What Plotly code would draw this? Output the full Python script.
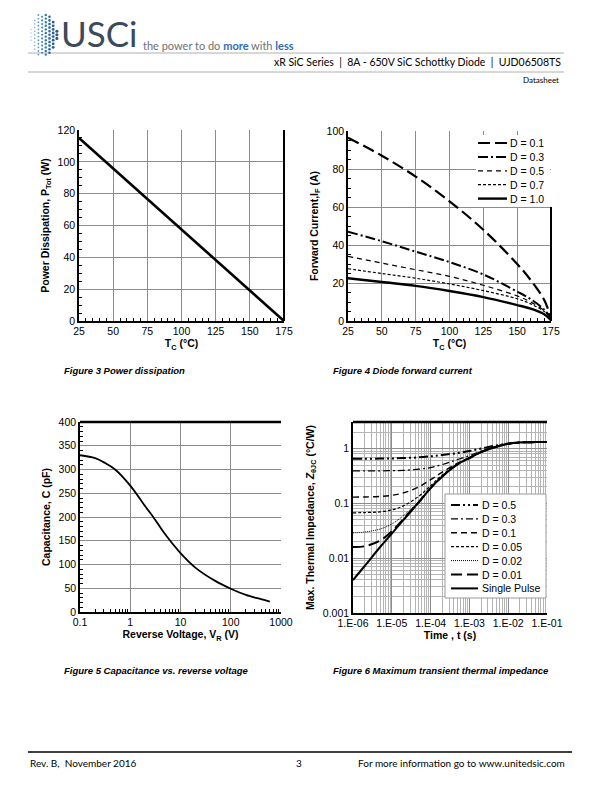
import plotly.graph_objects as go

W, H = 612, 792
OFF = 8  # page body margin of the generated html

# ---------------- data ----------------
# Figure 3: power dissipation
tc_p = [25, 175]
p_tot = [115, 0]

# Figure 4: forward current vs case temperature
tc_f = [25, 50, 75, 100, 125, 150, 160, 170, 175]
if_d01 = [96.5, 87, 76, 63, 48, 30, 21.5, 11, 1.5]
if_d03 = [47, 42, 36.5, 31, 24.5, 15.5, 11.5, 6, 1.5]
if_d05 = [34, 30.5, 27, 23.5, 18.8, 13.2, 10, 5.5, 1.5]
if_d07 = [27.5, 25, 22.5, 19.5, 16, 11.7, 9, 5, 1.5]
if_d10 = [22.5, 20.5, 18.5, 15.8, 12.6, 8.4, 6.5, 3.5, 0.5]

# Figure 5: capacitance vs reverse voltage
vr = [0.1, 0.2, 0.3, 0.5, 1, 2, 3, 5, 10, 20, 50, 100, 200, 400, 600]
cap = [330, 324, 315, 300, 266, 222, 197, 163, 124, 93, 65, 49, 36, 27, 22]

# Figure 6: transient thermal impedance
t_s = [1e-6, 2e-6, 5e-6, 1e-5, 2e-5, 5e-5, 1e-4, 2e-4, 5e-4, 1e-3, 2e-3, 5e-3, 1e-2, 2e-2, 5e-2, 1e-1]
z_d05 = [0.65, 0.65, 0.655, 0.66, 0.67, 0.69, 0.72, 0.76, 0.83, 0.9, 1.0, 1.14, 1.23, 1.29, 1.31, 1.31]
z_d03 = [0.39, 0.39, 0.392, 0.395, 0.4, 0.42, 0.45, 0.51, 0.63, 0.74, 0.9, 1.1, 1.22, 1.29, 1.31, 1.31]
z_d01 = [0.13, 0.131, 0.134, 0.14, 0.155, 0.2, 0.27, 0.37, 0.54, 0.68, 0.87, 1.09, 1.22, 1.29, 1.31, 1.31]
z_d005 = [0.067, 0.068, 0.07, 0.076, 0.09, 0.135, 0.21, 0.33, 0.52, 0.67, 0.86, 1.08, 1.22, 1.29, 1.31, 1.31]
z_d002 = [0.029, 0.03, 0.034, 0.042, 0.06, 0.11, 0.195, 0.315, 0.52, 0.67, 0.86, 1.08, 1.22, 1.29, 1.31, 1.31]
z_d001 = [0.016, 0.0165, 0.021, 0.031, 0.052, 0.106, 0.19, 0.31, 0.52, 0.67, 0.86, 1.08, 1.22, 1.29, 1.31, 1.31]
z_single = [0.004, 0.0072, 0.016, 0.028, 0.05, 0.105, 0.19, 0.31, 0.52, 0.67, 0.86, 1.08, 1.22, 1.29, 1.31, 1.31]

x4_vals = [1e-6, 1e-5, 1e-4, 1e-3, 1e-2, 1e-1]
x4_text = ["1.E-06", "1.E-05", "1.E-04", "1.E-03", "1.E-02", "1.E-01"]
y4_vals = [0.001, 0.01, 0.1, 1]
y4_text = ["0.001", "0.01", "0.1", "1"]
x3_vals = [0.1, 1, 10, 100, 1000]
x3_text = ["0.1", "1", "10", "100", "1000"]

# ---------------- helpers ----------------
def fx(p):
    return (p - OFF) / W

def fy(p):
    return 1 - (p - OFF) / H

FONT = "Liberation Sans"
HFONT = "Lato"
GRID = "#8c8c8c"

fig = go.Figure()

# Figure 3
fig.add_trace(go.Scatter(x=tc_p, y=p_tot, mode="lines", line=dict(color="black", width=2.6),
                         xaxis="x", yaxis="y", showlegend=False))

# Figure 4
f4 = [("D = 0.1", if_d01, "12px,5px", 2.2), ("D = 0.3", if_d03, "10px,3px,2px,3px", 2.0),
      ("D = 0.5", if_d05, "5px,4px", 1.2), ("D = 0.7", if_d07, "3px,2px", 1.2),
      ("D = 1.0", if_d10, "solid", 2.4)]
for name, ys, dash, w in f4:
    fig.add_trace(go.Scatter(x=tc_f, y=ys, mode="lines", name=name, showlegend=False,
                             line=dict(color="black", width=w, dash=dash, shape="spline"),
                             xaxis="x2", yaxis="y2"))

# Figure 5
fig.add_trace(go.Scatter(x=vr, y=cap, mode="lines", line=dict(color="black", width=1.8, shape="spline"),
                         xaxis="x3", yaxis="y3", showlegend=False))

# Figure 6
f6 = [("D = 0.5", z_d05, "9px,3px,2px,3px,2px,3px", 2.0), ("D = 0.3", z_d03, "7px,3px,2px,3px", 1.2),
      ("D = 0.1", z_d01, "6px,4px", 1.4), ("D = 0.05", z_d005, "3px,2px", 1.2),
      ("D = 0.02", z_d002, "1px,1px", 1.0), ("D = 0.01", z_d001, "11px,5px", 2.0),
      ("Single Pulse", z_single, "solid", 2.0)]
for name, ys, dash, w in f6:
    fig.add_trace(go.Scatter(x=t_s, y=ys, mode="lines", name=name, showlegend=False,
                             line=dict(color="black", width=w, dash=dash, shape="spline"),
                             xaxis="x4", yaxis="y4"))

tickfont = dict(family=FONT, size=10.5, color="black")
titlefont = dict(family=FONT, size=10.5, color="black")

def lin_axis(domain, anchor, rng, dtick, minor_dtick, title, standoff):
    return dict(domain=domain, anchor=anchor, range=rng, dtick=dtick, tick0=rng[0], automargin=False,
                showgrid=True, gridcolor=GRID, gridwidth=1, zeroline=False,
                showline=True, linecolor="black", linewidth=1.6,
                ticks="", tickfont=tickfont,
                minor=dict(dtick=minor_dtick, ticks="inside", ticklen=3, tickcolor="black", tickwidth=1.2, showgrid=False),
                title=dict(text=title, font=titlefont, standoff=standoff))

minor3 = [k * 10 ** e for e in range(-1, 3) for k in range(2, 10)]
minor4x = [k * 10 ** e for e in range(-6, -1) for k in range(2, 10)]
minor4y = [k * 10 ** e for e in range(-3, 1) for k in range(2, 10)]

d1x = [fx(79), fx(284)]; d1y = [fy(321), fy(130)]
d2x = [fx(348), fx(551)]; d2y = [fy(321), fy(131)]
d3x = [fx(80), fx(281)]; d3y = [fy(612), fy(422)]
d4x = [fx(353), fx(547)]; d4y = [fy(613), fy(422)]

layout = dict(
    width=W, height=H, margin=dict(l=0, r=0, t=0, b=0, pad=0, autoexpand=False),
    paper_bgcolor="white", plot_bgcolor="white", showlegend=False,
    xaxis=lin_axis(d1x, "y", [25, 175], 25, 5, "<b>T<sub>C</sub> (°C)</b>", 2),
    yaxis=lin_axis(d1y, "x", [0, 120], 20, 5, "<b>Power Dissipation, P<sub>Tot</sub> (W)</b>", 6),
    xaxis2=lin_axis(d2x, "y2", [25, 175], 25, 5, "<b>T<sub>C</sub> (°C)</b>", 2),
    yaxis2=lin_axis(d2y, "x2", [0, 100], 20, 5, "<b>Forward Current,I<sub>F</sub> (A)</b>", 6),
    xaxis3=dict(domain=d3x, anchor="y3", type="log", range=[-1, 3], tickmode="array", tickvals=x3_vals, ticktext=x3_text,
                automargin=False, showgrid=True, gridcolor=GRID, showline=True, linecolor="black", linewidth=1.6,
                ticks="", tickfont=tickfont,
                minor=dict(tickmode="array", tickvals=minor3, ticks="inside", ticklen=3, tickcolor="black", tickwidth=1.2, showgrid=False),
                title=dict(text="<b>Reverse Voltage, V<sub>R</sub> (V)</b>", font=titlefont, standoff=2)),
    yaxis3=lin_axis(d3y, "x3", [0, 400], 50, 10, "<b>Capacitance, C (pF)</b>", 6),
    xaxis4=dict(domain=d4x, anchor="y4", type="log", range=[-6, -1], tickmode="array", tickvals=x4_vals, ticktext=x4_text,
                automargin=False, showgrid=True, gridcolor="#8c8c8c", showline=True, linecolor="black", linewidth=1.6,
                ticks="", tickfont=tickfont,
                minor=dict(tickmode="array", tickvals=minor4x, showgrid=True, gridcolor="#b4b4b4", gridwidth=1, ticks=""),
                title=dict(text="<b>Time , t (s)</b>", font=titlefont, standoff=2)),
    yaxis4=dict(domain=d4y, anchor="x4", type="log", range=[-3, 0.484], tickmode="array", tickvals=y4_vals, ticktext=y4_text,
                automargin=False, showgrid=True, gridcolor="#8c8c8c", showline=True, linecolor="black", linewidth=1.6,
                ticks="", tickfont=tickfont,
                minor=dict(tickmode="array", tickvals=minor4y, showgrid=True, gridcolor="#b4b4b4", gridwidth=1, ticks=""),
                title=dict(text="<b>Max. Thermal Impedance, <i>Z</i><sub>θJC</sub> (°C/W)</b>", font=titlefont, standoff=6)),
)
fig.update_layout(**layout)

shapes = []
ann = []

def txt(x, y, s, size, xanchor="left", family=HFONT, color="black", yanchor="middle"):
    ann.append(dict(x=fx(x), y=fy(y), xref="paper", yref="paper", text=s, showarrow=False,
                    xanchor=xanchor, yanchor=yanchor, font=dict(family=family, size=size, color=color)))

# borders opposite to the axes
shapes.append(dict(type="line", xref="x domain", yref="y domain", x0=1, x1=1, y0=0, y1=1, line=dict(color="black", width=2)))
shapes.append(dict(type="line", xref="x2 domain", yref="y2 domain", x0=1, x1=1, y0=0, y1=0.6, line=dict(color="black", width=2)))
shapes.append(dict(type="line", xref="x3 domain", yref="y3 domain", x0=0, x1=1, y0=1, y1=1, line=dict(color="black", width=2.5)))
shapes.append(dict(type="line", xref="x4 domain", yref="y4 domain", x0=0, x1=1, y0=1, y1=1, line=dict(color="black", width=2.5)))


# legends drawn as key boxes (samples + labels)
def key_box(x0, x1, y0, y1, border, entries, row0, step, lx0, lx1, tx):
    shapes.append(dict(type="rect", xref="paper", yref="paper", x0=fx(x0), x1=fx(x1), y0=fy(y1), y1=fy(y0),
                       fillcolor="white", line=dict(color=border if border else "white", width=1 if border else 0)))
    for k, (name, _, dash, w) in enumerate(entries):
        yy = row0 + k * step
        shapes.append(dict(type="line", xref="paper", yref="paper", x0=fx(lx0), x1=fx(lx1), y0=fy(yy), y1=fy(yy),
                           line=dict(color="black", width=w, dash=dash)))
        txt(tx, yy, name, 10.5, family=FONT)

key_box(476, 550, 135, 207, None, f4, 143, 13.9, 478, 507, 508)
key_box(445, 546, 494, 598, "#9a9a9a", f6, 505, 13.9, 451, 478, 480)

# header / footer rules
shapes.append(dict(type="line", xref="paper", yref="paper", x0=fx(28), x1=fx(564), y0=fy(53), y1=fy(53), line=dict(color="#b0b0b0", width=1)))
shapes.append(dict(type="line", xref="paper", yref="paper", x0=fx(28), x1=fx(564), y0=fy(72), y1=fy(72), line=dict(color="#b0b0b0", width=1)))
shapes.append(dict(type="line", xref="paper", yref="paper", x0=fx(28), x1=fx(572), y0=fy(752), y1=fy(752), line=dict(color="black", width=1.5)))

# logo dots (decorative hexagon)
cx, cy = 44, 35
blues = ["#9cc3e8", "#7fb0e0", "#5b9ad6", "#3f86cc", "#2e74bd", "#2a67ad", "#2a5f9f", "#2a578f"]
for i in range(8):
    for j in range(12):
        px = 31 + i * 3.7
        py = 15 + j * 3.6 + (1.8 if i % 2 else 0)
        dx = abs(px - cx) / 14.5
        dy = abs(py - cy) / 21
        if dx + dy * 0.55 > 1.05 or dy > 1.0:
            continue
        r = 0.7 + 0.12 * i
        shapes.append(dict(type="circle", xref="paper", yref="paper",
                           x0=fx(px - r), x1=fx(px + r), y0=fy(py + r), y1=fy(py - r),
                           fillcolor=blues[i], line=dict(width=0)))
fig.update_layout(shapes=shapes)

txt(59, 33, "USCi", 35, color="#3b4a5c")
txt(141, 45, "the power to do <b><span style='color:#2f6db5'>more</span></b> with <b><span style='color:#2f6db5'>less</span></b>", 11, color="#707070")
txt(563, 62, "xR SiC Series  |  8A - 650V SiC Schottky Diode  |  UJD06508TS", 10.5, xanchor="right")
txt(561, 80, "Datasheet", 8, xanchor="right")
txt(28, 763, "Rev. B,  November 2016", 10)
txt(299, 763, "3", 10, xanchor="center")
txt(567, 763, "For more information go to www.unitedsic.com", 10, xanchor="right")
txt(62, 371, "<b><i>Figure 3 Power dissipation</i></b>", 9.5, family=FONT)
txt(331, 371, "<b><i>Figure 4 Diode forward current</i></b>", 9.5, family=FONT)
txt(62, 670, "<b><i>Figure 5 Capacitance vs. reverse voltage</i></b>", 9.5, family=FONT)
txt(331, 670, "<b><i>Figure 6 Maximum transient thermal impedance</i></b>", 9.5, family=FONT)
fig.update_layout(annotations=ann)

fig.write_html("out.html")
